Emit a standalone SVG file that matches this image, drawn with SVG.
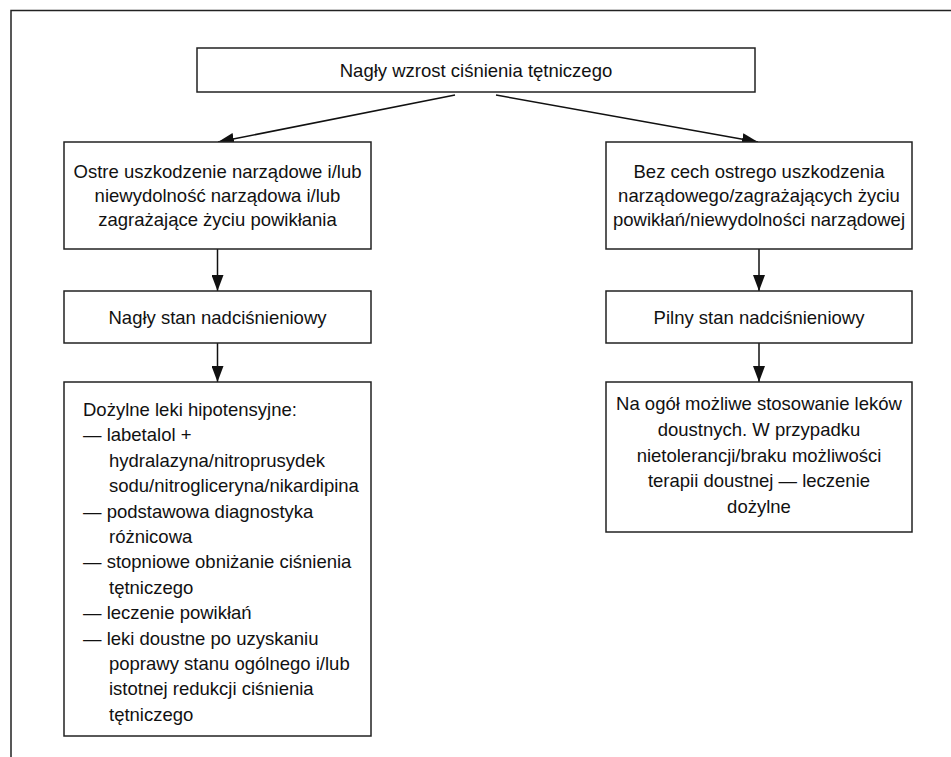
<svg xmlns="http://www.w3.org/2000/svg" width="951" height="757" viewBox="0 0 951 757">
  <defs>
    <marker id="arrow" markerUnits="userSpaceOnUse" markerWidth="16" markerHeight="12" refX="16" refY="6" orient="auto">
      <path d="M0,0 L16,6 L0,12 Z" fill="#111"/>
    </marker>
    <style>
      .box { fill: #fff; stroke: #222; stroke-width: 1.5; }
      .frame { fill: none; stroke: #222; stroke-width: 1.5; }
      .edge { fill: none; stroke: #111; stroke-width: 1.5; marker-end: url(#arrow); }
      text { font-family: "Liberation Sans", Arial, sans-serif; font-size: 18.5px; fill: #111; }
      .c { text-anchor: middle; }
    </style>
  </defs>

  <rect width="951" height="757" fill="#fff"/>
  <!-- open frame: top and left edges -->
  <path class="frame" d="M11,757 V10.5 H951"/>

  <g id="connectors">
    <line class="edge" x1="455" y1="95" x2="218" y2="142"/>
    <line class="edge" x1="496" y1="95" x2="758" y2="142"/>
    <line class="edge" x1="217.5" y1="249" x2="217.5" y2="291"/>
    <line class="edge" x1="217.5" y1="343" x2="217.5" y2="382"/>
    <line class="edge" x1="759" y1="249" x2="759" y2="291"/>
    <line class="edge" x1="759" y1="343" x2="759" y2="382"/>
  </g>

  <g id="start">
    <rect class="box" x="197" y="48" width="558" height="44"/>
    <text class="c" x="476" y="77">Nagły wzrost ciśnienia tętniczego</text>
  </g>

  <g id="organ-damage">
    <rect class="box" x="64" y="142" width="307" height="107"/>
    <text class="c" x="217.5" y="178">Ostre uszkodzenie narządowe i/lub</text>
    <text class="c" x="217.5" y="202">niewydolność narządowa i/lub</text>
    <text class="c" x="217.5" y="226">zagrażające życiu powikłania</text>
  </g>

  <g id="emergency">
    <rect class="box" x="64" y="291" width="307" height="52"/>
    <text class="c" x="217.5" y="324">Nagły stan nadciśnieniowy</text>
  </g>

  <g id="iv-treatment">
    <rect class="box" x="64" y="382" width="307" height="354"/>
    <text x="83" y="416">Dożylne leki hipotensyjne:</text>
    <text x="83" y="441.4">— labetalol +</text>
    <text x="109" y="466.8">hydralazyna/nitroprusydek</text>
    <text x="109" y="492.2">sodu/nitrogliceryna/nikardipina</text>
    <text x="83" y="517.6">— podstawowa diagnostyka</text>
    <text x="109" y="543">różnicowa</text>
    <text x="83" y="568.4">— stopniowe obniżanie ciśnienia</text>
    <text x="109" y="593.8">tętniczego</text>
    <text x="83" y="619.2">— leczenie powikłań</text>
    <text x="83" y="644.6">— leki doustne po uzyskaniu</text>
    <text x="109" y="670">poprawy stanu ogólnego i/lub</text>
    <text x="109" y="695.4">istotnej redukcji ciśnienia</text>
    <text x="109" y="720.8">tętniczego</text>
  </g>

  <g id="no-organ-damage">
    <rect class="box" x="606" y="142" width="306" height="107"/>
    <text class="c" x="759" y="178">Bez cech ostrego uszkodzenia</text>
    <text class="c" x="759" y="202">narządowego/zagrażających życiu</text>
    <text class="c" x="759" y="226">powikłań/niewydolności narządowej</text>
  </g>

  <g id="urgency">
    <rect class="box" x="606" y="291" width="306" height="52"/>
    <text class="c" x="759" y="324">Pilny stan nadciśnieniowy</text>
  </g>

  <g id="oral-treatment">
    <rect class="box" x="606" y="382" width="306" height="150"/>
    <text class="c" x="759" y="410">Na ogół możliwe stosowanie leków</text>
    <text class="c" x="759" y="435.8">doustnych. W przypadku</text>
    <text class="c" x="759" y="461.6">nietolerancji/braku możliwości</text>
    <text class="c" x="759" y="487.4">terapii doustnej — leczenie</text>
    <text class="c" x="759" y="513">dożylne</text>
  </g>
</svg>
